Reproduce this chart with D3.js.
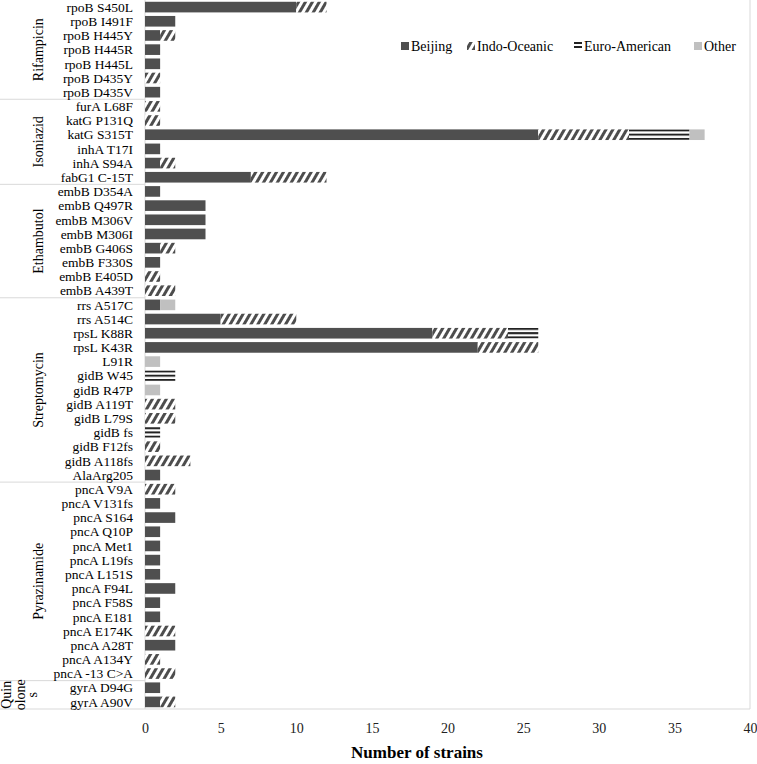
<html>
<meta charset="utf-8">
<style>
  body { margin: 0; background: #fff; }
  text { font-family: "Liberation Serif", "Times New Roman", serif; }
</style>
<body>
<div id="chart"></div>
<script src="https://d3js.org/d3.v7.min.js"></script>
<script>
// mutations (top to bottom) and the drug each belongs to
var mutations = ["rpoB S450L","rpoB I491F","rpoB H445Y","rpoB H445R","rpoB H445L","rpoB D435Y","rpoB D435V",
  "furA L68F","katG P131Q","katG S315T","inhA T17I","inhA S94A","fabG1 C-15T",
  "embB D354A","embB Q497R","embB M306V","embB M306I","embB G406S","embB F330S","embB E405D","embB A439T",
  "rrs A517C","rrs A514C","rpsL K88R","rpsL K43R","L91R","gidB W45","gidB R47P","gidB A119T","gidB L79S",
  "gidB fs","gidB F12fs","gidB A118fs","AlaArg205",
  "pncA V9A","pncA V131fs","pncA S164","pncA Q10P","pncA Met1","pncA L19fs","pncA L151S","pncA F94L",
  "pncA F58S","pncA E181","pncA E174K","pncA A28T","pncA A134Y","pncA -13 C>A",
  "gyrA D94G","gyrA A90V"];
var drugs = ["Rifampicin","Isoniazid","Ethambutol","Streptomycin","Pyrazinamide","Quinolones"];
var drugCounts = [7, 6, 8, 13, 14, 2];

// strain counts per lineage, same order as mutations
var beijing      = [10,2,1,1,1,0,1, 0,0,26,1,1,7, 1,4,4,4,1,1,0,0, 1,5,19,22,0,0,0,0,0,0,0,0,1, 0,1,2,1,1,1,1,2,1,1,0,2,0,0, 1,1];
var indoOceanic  = [2,0,1,0,0,1,0, 1,1,6,0,1,5, 0,0,0,0,1,0,1,2, 0,5,5,4,0,0,0,2,2,0,1,3,0, 2,0,0,0,0,0,0,0,0,0,2,0,1,2, 0,1];
var euroAmerican = [0,0,0,0,0,0,0, 0,0,4,0,0,0, 0,0,0,0,0,0,0,0, 0,0,2,0,0,2,0,0,0,1,0,0,0, 0,0,0,0,0,0,0,0,0,0,0,0,0,0, 0,0];
var other        = [0,0,0,0,0,0,0, 0,0,1,0,0,0, 0,0,0,0,0,0,0,0, 1,0,0,0,1,0,1,0,0,0,0,0,0, 0,0,0,0,0,0,0,0,0,0,0,0,0,0, 0,0];

var lineages = ["Beijing","Indo-Oceanic","Euro-American","Other"];
var xTicks = [0,5,10,15,20,25,30,35,40];

var W = 757, H = 764;
var plot = {left: 145, right: 750, top: 0, bottom: 709};

var svg = d3.select("#chart").append("svg").attr("width", W).attr("height", H);
var defs = svg.append("defs");

// diagonal hatch for Indo-Oceanic
var hatch = defs.append("pattern").attr("id", "hatch")
  .attr("patternUnits", "userSpaceOnUse").attr("width", 6).attr("height", 12)
  .attr("patternTransform", "rotate(30)");
hatch.append("rect").attr("width", 6).attr("height", 12).attr("fill", "#fff");
hatch.append("rect").attr("width", 3).attr("height", 12).attr("fill", "#4d4d4d");

// horizontal lines for Euro-American
var hlines = defs.append("pattern").attr("id", "hlines")
  .attr("patternUnits", "objectBoundingBox").attr("width", 1).attr("height", 0.4);
hlines.append("rect").attr("width", 2000).attr("height", 20).attr("fill", "#fff");
hlines.append("rect").attr("width", 2000).attr("height", 2).attr("fill", "#222");

var legendLines = defs.append("pattern").attr("id", "hlinesSmall")
  .attr("patternUnits", "userSpaceOnUse").attr("width", 8).attr("height", 4);
legendLines.append("rect").attr("width", 8).attr("height", 4).attr("fill", "#fff");
legendLines.append("rect").attr("width", 8).attr("height", 2).attr("fill", "#222");

var fills = {"Beijing": "#4f4f4f", "Indo-Oceanic": "url(#hatch)", "Euro-American": "url(#hlines)", "Other": "#c0c0c0"};

var rows = mutations.map(function(m, i) {
  return {name: m, "Beijing": beijing[i], "Indo-Oceanic": indoOceanic[i],
          "Euro-American": euroAmerican[i], "Other": other[i]};
});
var stacked = d3.stack().keys(lineages)(rows);

var x = d3.scaleLinear().domain([0, 40]).range([plot.left, plot.right]);
var y = d3.scaleBand().domain(mutations).range([plot.top, plot.bottom]).paddingInner(0.25).paddingOuter(0.125);

// frame lines
svg.append("line").attr("x1", plot.left).attr("x2", plot.left).attr("y1", plot.top).attr("y2", plot.bottom)
  .attr("stroke", "#d9d9d9");
svg.append("line").attr("x1", plot.right).attr("x2", plot.right).attr("y1", plot.top).attr("y2", plot.bottom)
  .attr("stroke", "#d9d9d9");
svg.append("line").attr("x1", 0).attr("x2", plot.right).attr("y1", plot.bottom).attr("y2", plot.bottom)
  .attr("stroke", "#d9d9d9");

// group dividers and drug labels
var step = y.step();
var start = 0;
drugs.forEach(function(d, i) {
  var y0 = plot.top + start * step, y1 = plot.top + (start + drugCounts[i]) * step;
  if (i > 0) {
    svg.append("line").attr("x1", 0).attr("x2", plot.left).attr("y1", y0).attr("y2", y0).attr("stroke", "#d9d9d9");
  }
  var cy = (y0 + y1) / 2;
  if (d == "Quinolones") {
    // wrapped in the narrow cell, as in the original
    var parts = ["Quin", "olone", "s"];
    var bx = [11, 25, 37];
    parts.forEach(function(p, j) {
      svg.append("text").attr("transform", "translate(" + bx[j] + "," + cy + ") rotate(-90)")
        .attr("text-anchor", "middle").attr("font-size", 14).text(p);
    });
  } else {
    svg.append("text").attr("transform", "translate(43," + cy + ") rotate(-90)")
      .attr("text-anchor", "middle").attr("font-size", 14).text(d);
  }
  start += drugCounts[i];
});

// category labels
svg.append("g").selectAll("text").data(mutations).enter().append("text")
  .attr("x", 133).attr("y", function(d) { return y(d) + y.bandwidth() / 2; })
  .attr("dy", "0.35em").attr("text-anchor", "end").attr("font-size", 13.5)
  .text(function(d) { return d; });

// bars
svg.append("g").selectAll("g").data(stacked).enter().append("g")
  .attr("fill", function(d) { return fills[d.key]; })
  .selectAll("rect").data(function(d) { return d.filter(function(p) { return p[1] > p[0]; }); })
  .enter().append("rect")
    .attr("x", function(d) { return x(d[0]); })
    .attr("y", function(d) { return y(d.data.name); })
    .attr("width", function(d) { return x(d[1]) - x(d[0]); })
    .attr("height", y.bandwidth());

// x axis
var xAxis = svg.append("g").attr("transform", "translate(0," + plot.bottom + ")")
  .call(d3.axisBottom(x).tickValues(xTicks).tickSize(0).tickPadding(14));
xAxis.select(".domain").remove();
xAxis.selectAll("text").attr("font-size", 14).attr("fill", "#222")
  .style("font-family", "Liberation Serif, serif");

svg.append("text").attr("x", 417).attr("y", 758)
  .attr("text-anchor", "middle").attr("font-size", 17).attr("font-weight", "bold").text("Number of strains");

// legend
var legendX = [401, 467, 574, 694];
var legend = svg.append("g").selectAll("g").data(lineages).enter().append("g")
  .attr("transform", function(d, i) { return "translate(" + legendX[i] + ",46)"; });
legend.append("rect").attr("x", 0).attr("y", -4).attr("width", 8).attr("height", 8)
  .attr("fill", function(d) { return d == "Euro-American" ? "url(#hlinesSmall)" : fills[d]; });
legend.append("text").attr("x", 10).attr("dy", "0.35em").attr("font-size", 14)
  .text(function(d) { return d; });
</script>
</body>
</html>
